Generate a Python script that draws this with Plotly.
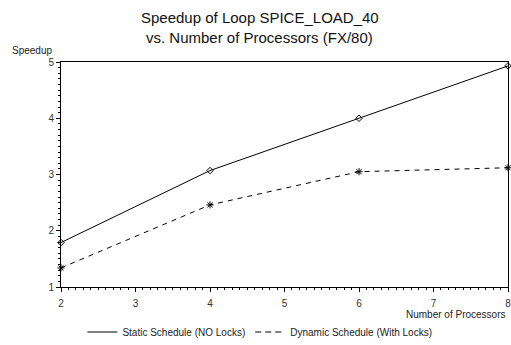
import plotly.graph_objects as go

processors = [2, 4, 6, 8]
static_speedup = [1.79, 3.07, 4.0, 4.93]
dynamic_speedup = [1.34, 2.46, 3.05, 3.12]
x_ticks = [2, 3, 4, 5, 6, 7, 8]
y_ticks = [1, 2, 3, 4, 5]
title_lines = ["Speedup of Loop SPICE_LOAD_40", "vs. Number of Processors (FX/80)"]

FONT = "Liberation Sans, Arial, sans-serif"

fig = go.Figure()
fig.add_trace(go.Scatter(x=processors, y=static_speedup, mode="lines+markers",
                         line=dict(color="black", width=1), cliponaxis=False,
                         marker=dict(symbol="diamond-open", size=5, color="black", line=dict(width=1)),
                         showlegend=False))
fig.add_trace(go.Scatter(x=processors, y=dynamic_speedup, mode="lines+markers",
                         line=dict(color="black", width=1, dash="5px,5px"), cliponaxis=False,
                         marker=dict(symbol="asterisk-open", size=6, color="black", line=dict(width=1, color="black")),
                         showlegend=False))
fig.add_trace(go.Scatter(x=[None], y=[None], mode="lines", name="Static Schedule (NO Locks)",
                         line=dict(color="black", width=1)))
fig.add_trace(go.Scatter(x=[None], y=[None], mode="lines", name="Dynamic Schedule (With Locks)",
                         line=dict(color="black", width=1, dash="6px,4px")))

annotations = [
    dict(text=title_lines[0], xref="paper", yref="paper", x=0.445, y=1.2,
         xanchor="center", yanchor="middle", showarrow=False, font=dict(size=15, color="#111")),
    dict(text=title_lines[1], xref="paper", yref="paper", x=0.445, y=1.107,
         xanchor="center", yanchor="middle", showarrow=False, font=dict(size=15, color="#111")),
    dict(text="Speedup", xref="paper", yref="paper", x=-0.114, y=1.05,
         xanchor="left", yanchor="middle", showarrow=False, font=dict(size=10, color="#222")),
    dict(text="Number of Processors", xref="paper", yref="paper", x=0.997, y=-0.124,
         xanchor="right", yanchor="middle", showarrow=False, font=dict(size=10, color="#222")),
]

fig.update_layout(
    width=511, height=345,
    margin=dict(l=61, r=3, t=62, b=58, autoexpand=False),
    paper_bgcolor="white", plot_bgcolor="white",
    font=dict(family=FONT, size=10, color="#222"),
    xaxis=dict(range=[2, 8], tickvals=x_ticks, showgrid=False, zeroline=False,
               showline=True, linecolor="black", linewidth=1, mirror=True,
               ticks="outside", ticklen=4, tickcolor="black", ticklabelstandoff=3,
               ticklabeloverflow="allow",
               minor=dict(dtick=0.1, ticks="outside", ticklen=2, tickcolor="black"),
               tickfont=dict(size=10, color="#333")),
    yaxis=dict(range=[1, 5], tickvals=y_ticks, showgrid=False, zeroline=False,
               showline=True, linecolor="black", linewidth=1, mirror=True,
               ticks="outside", ticklen=4, tickcolor="black", ticklabeloverflow="allow",
               minor=dict(dtick=0.1, ticks="outside", ticklen=2, tickcolor="black"),
               tickfont=dict(size=10, color="#333")),
    legend=dict(orientation="h", x=0.445, xanchor="center", y=-0.2, yanchor="middle",
                font=dict(size=10, color="#222"), itemwidth=30, bgcolor="rgba(0,0,0,0)"),
    annotations=annotations,
)

fig.write_html("out.html")
